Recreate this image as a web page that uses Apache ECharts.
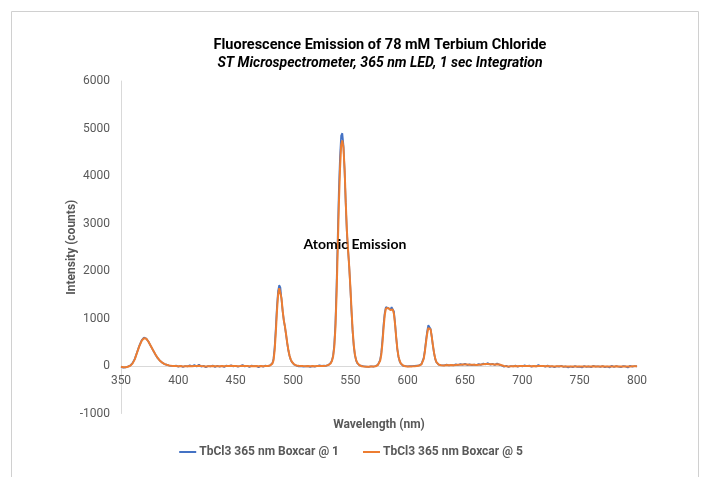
<!DOCTYPE html>
<html>
<head>
<meta charset="utf-8">
<script src="https://cdn.jsdelivr.net/npm/echarts@6/dist/echarts.min.js"></script>
<style>
html,body{margin:0;padding:0;background:#fff;}
#chart{width:702px;height:477px;}
</style>
</head>
<body>
<div id="chart"></div>
<script>
// Wavelength sample points (nm)
const wavelengths = [
350,352,354,356,358,360,362,364,366,368,370,372,374,376,378,380,382,384,386,388,390,392,394,396,398,400,
402,404,406,408,410,412,414,416,418,420,422,424,426,428,430,432,434,436,438,440,442,444,446,448,450,
452,454,456,458,460,462,464,466,468,470,472,474,476,478,
479,480,481,482,483,484,485,486,487,488,489,490,491,492,493,494,495,496,497,498,499,500,
501,502,503,504,505,506,507,508,509,510,511,512,513,514,515,516,517,518,519,520,
521,522,523,524,525,526,527,528,529,530,531,532,533,534,535,536,537,538,539,540,
541,542,543,544,545,546,547,548,549,550,551,552,553,554,555,556,557,558,559,560,
561,562,563,564,565,566,567,568,569,570,571,572,573,574,575,576,577,578,579,580,
581,582,583,584,585,586,587,588,589,590,591,592,593,594,595,596,597,598,599,600,
601,602,603,604,605,606,607,608,609,610,611,612,613,614,615,616,617,618,619,620,
621,622,623,624,625,626,627,628,629,630,
632,634,636,638,640,642,644,646,648,650,652,654,656,658,660,662,664,666,668,670,
672,674,676,678,680,682,684,686,688,690,692,694,696,698,700,702,704,706,708,710,
712,714,716,718,720,722,724,726,728,730,732,734,736,738,740,742,744,746,748,750,
752,754,756,758,760,762,764,766,768,770,772,774,776,778,780,782,784,786,788,790,
792,794,796,798,800
];

// TbCl3 365 nm Boxcar @ 1 (counts)
const boxcar1 = [
-20,-35,-30,-10,10,60,150,290,430,540,600,580,510,420,330,240,165,110,70,40,25,10,5,-5,10,-15,
5,-20,0,-10,15,-5,20,-10,30,-15,5,-25,0,-10,10,-20,5,-15,0,-20,10,-5,15,-10,5,
-15,0,20,-10,5,-20,10,-5,0,-25,5,-15,10,-5,
5,15,30,60,150,400,800,1250,1580,1700,1650,1400,1150,960,820,650,470,320,210,130,85,50,
30,25,5,20,-10,10,-5,15,-15,5,-10,20,-5,0,-20,10,-5,5,-15,10,
0,-10,15,-5,5,-15,10,20,5,15,25,40,70,120,220,450,900,1700,2700,3700,
4400,4850,4900,4650,4100,3400,2800,2450,2100,1650,1150,720,420,230,120,60,30,15,-10,5,
-25,-10,-30,-15,-35,-20,-25,-5,-30,-15,-20,0,10,25,60,130,280,550,880,1120,
1240,1260,1220,1200,1190,1240,1280,1150,900,600,350,190,100,50,20,5,-15,0,-20,-10,
-25,-5,-20,0,-15,5,-10,10,0,15,20,40,80,170,330,540,730,860,870,780,
620,430,270,150,80,45,30,10,20,5,
15,30,10,25,15,35,20,40,25,45,20,35,15,30,20,40,25,50,35,60,
30,45,20,55,25,10,-15,5,-20,0,-10,10,-15,5,-10,15,-5,10,-15,0,
-10,20,-5,5,-15,10,-20,-5,-25,-5,-15,5,-20,-10,-30,-10,-25,0,-20,-15,
-30,0,-20,-10,-25,5,-15,-5,-20,0,-25,-10,-30,5,-20,0,-15,-25,0,-10,
-30,5,-15,0,-10
];

// TbCl3 365 nm Boxcar @ 5 (counts)
const boxcar5 = [
-15,-25,-25,-15,5,50,140,280,420,530,585,575,510,420,330,245,170,110,70,40,25,12,5,0,0,-5,
-2,-8,-5,-5,0,-3,2,0,5,-2,-5,-8,-5,-3,0,-5,-3,-5,-2,-6,0,-2,3,-2,0,
-4,-2,4,0,-2,-5,0,-3,-2,-5,-2,-5,0,0,
2,10,25,50,120,330,700,1150,1500,1640,1620,1420,1160,960,830,660,480,330,215,140,90,55,
35,20,12,8,3,2,0,2,-2,0,-3,2,0,-2,-4,0,-2,0,-3,0,
0,-2,2,0,2,-2,2,5,8,12,20,35,60,110,200,400,800,1500,2450,3400,
4150,4650,4750,4600,4150,3450,2850,2450,2100,1680,1200,760,440,240,130,70,35,15,0,-5,
-10,-12,-15,-15,-18,-15,-15,-10,-12,-10,-8,-5,5,20,50,110,240,480,800,1070,
1210,1240,1220,1190,1180,1200,1190,1100,880,600,360,200,110,55,25,10,0,-5,-8,-8,
-10,-8,-10,-8,-6,-3,-2,2,5,10,20,35,70,150,300,500,680,800,830,770,
620,440,280,160,85,50,30,20,15,10,
12,20,18,20,18,22,25,28,30,32,30,28,25,25,22,28,32,38,40,42,
38,35,30,38,30,15,0,-5,-8,-5,-5,0,-4,-2,-2,2,0,2,-3,-2,
-3,2,0,0,-4,-2,-5,-6,-8,-6,-6,-5,-8,-10,-12,-12,-12,-8,-10,-10,
-12,-8,-10,-8,-10,-6,-8,-8,-10,-6,-10,-10,-12,-8,-10,-6,-8,-12,-8,-8,
-12,-8,-6,-4,-5
];

const xTicks = [350, 800, 50];     // min, max, interval
const yTicks = [-1000, 6000, 1000]; // min, max, interval

const seriesNames = ['TbCl3 365 nm Boxcar @ 1', 'TbCl3 365 nm Boxcar @ 5'];
const annotationText = 'Atomic Emission';
const annotationAt = [554, 2560];

const chart = echarts.init(document.getElementById('chart'), null, {renderer: 'canvas'});

const pairs = (ys) => wavelengths.map((w, i) => [w, ys[i]]);
const labelColor = '#595959';
const fontFam = 'Roboto, "Noto Sans", sans-serif';

const option = {
  backgroundColor: '#ffffff',
  animation: false,
  title: {
    text: 'Fluorescence Emission of 78 mM Terbium Chloride',
    subtext: 'ST Microspectrometer, 365 nm LED, 1 sec Integration',
    left: 380,
    top: 38,
    textAlign: 'center',
    itemGap: 3,
    padding: 0,
    textStyle: {fontFamily: fontFam, fontSize: 14.5, fontWeight: 'bold', color: '#000000'},
    subtextStyle: {fontFamily: fontFam, fontSize: 14, fontWeight: 'bold', fontStyle: 'italic', color: '#000000'}
  },
  legend: {
    data: seriesNames,
    left: 'center',
    top: 441,
    icon: 'rect',
    itemWidth: 17,
    itemHeight: 2,
    itemGap: 24,
    textStyle: {fontFamily: fontFam, fontSize: 12, fontWeight: 'bold', color: labelColor, padding: [0,0,0,-2]}
  },
  grid: {left: 121, right: 65, top: 81, bottom: 63.5, containLabel: false, outerBoundsMode: 'none'},
  xAxis: {
    type: 'value',
    min: xTicks[0], max: xTicks[1], interval: xTicks[2],
    name: 'Wavelength (nm)',
    nameLocation: 'middle',
    nameGap: 53,
    nameMoveOverlap: false,
    nameTextStyle: {fontFamily: fontFam, fontSize: 12, fontWeight: 'bold', color: labelColor},
    axisLine: {show: true, onZero: false, lineStyle: {color: '#d9d9d9', width: 1}},
    axisTick: {show: false},
    splitLine: {show: false},
    axisLabel: {fontFamily: fontFam, fontSize: 12, color: labelColor, margin: 9}
  },
  yAxis: {
    type: 'value',
    min: yTicks[0], max: yTicks[1], interval: yTicks[2],
    name: 'Intensity (counts)',
    nameLocation: 'middle',
    nameRotate: 90,
    nameGap: 43,
    nameMoveOverlap: false,
    nameTextStyle: {fontFamily: fontFam, fontSize: 12, fontWeight: 'bold', color: labelColor},
    axisLine: {show: true, lineStyle: {color: '#d9d9d9', width: 1}},
    axisTick: {show: false},
    splitLine: {show: false},
    axisLabel: {fontFamily: fontFam, fontSize: 12, color: labelColor, margin: 11, formatter: (v) => String(v)}
  },
  series: [
    {
      name: seriesNames[0], type: 'line', data: pairs(boxcar1),
      showSymbol: false, symbol: 'none',
      lineStyle: {color: '#4472C4', width: 1.75}, itemStyle: {color: '#4472C4'},
      z: 2
    },
    {
      name: seriesNames[1], type: 'line', data: pairs(boxcar5),
      showSymbol: false, symbol: 'none',
      lineStyle: {color: '#ED7D31', width: 2}, itemStyle: {color: '#ED7D31'},
      z: 3
    }
  ]
};
chart.setOption(option);

// Place the x axis line on y = 0 (crosses at zero, as in the reference)
const yZero = chart.convertToPixel({yAxisIndex: 0}, 0);
const yBottom = chart.convertToPixel({yAxisIndex: 0}, yTicks[0]);
const p = chart.convertToPixel({gridIndex: 0}, annotationAt);
chart.setOption({
  xAxis: {offset: yZero - yBottom},
  graphic: [
    {
      type: 'rect', silent: true, z: -1,
      shape: {x: 11.5, y: 11.5, width: 687, height: 480},
      style: {fill: 'none', stroke: '#d0d0d0', lineWidth: 1}
    },
    {
      type: 'text', silent: true, z: 10,
      x: p[0], y: p[1],
      style: {
        text: annotationText, align: 'center', verticalAlign: 'middle',
        font: 'bold 14px Lato, "Open Sans", sans-serif', fill: '#000000'
      }
    }
  ]
});
</script>
</body>
</html>
